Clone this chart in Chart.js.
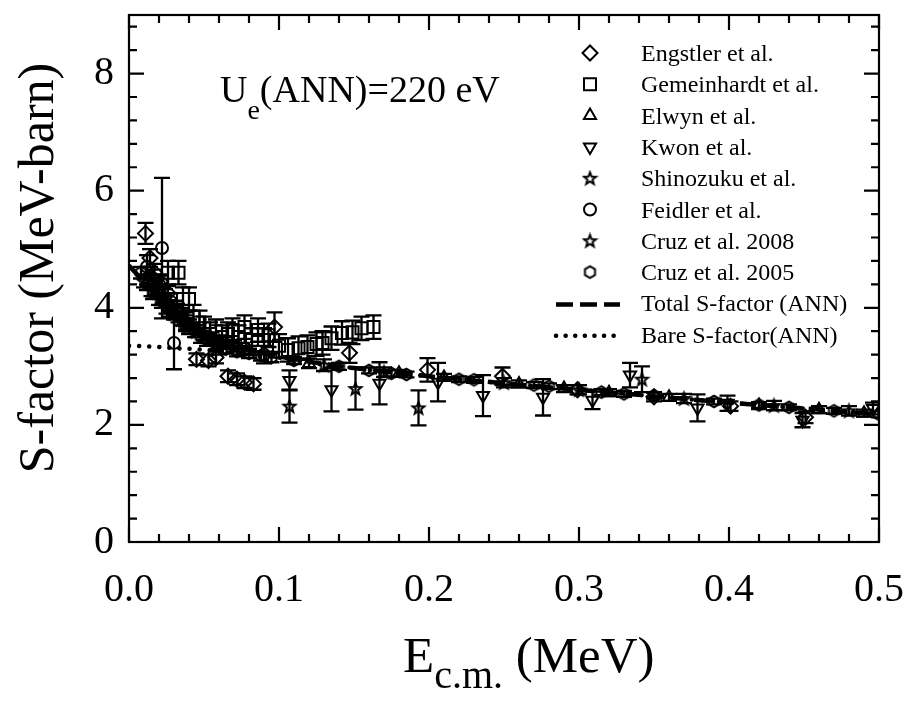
<!DOCTYPE html>
<html>
<head>
<meta charset="utf-8">
<script src="https://cdn.jsdelivr.net/npm/chart.js@4/dist/chart.umd.min.js"></script>
<style>
  html, body { margin: 0; padding: 0; background: #fff; }
  #wrap { width: 922px; height: 703px; position: relative; }
</style>
</head>
<body>
<div id="wrap"><canvas id="sfactor"></canvas></div>
<script>
"use strict";

/*---------------------------------------------------
---------------------------------------------------*/
var engstler = [
  [0.011, 5.27, 0.18], [0.014, 4.85, 0.15], [0.017, 4.6, 0.15], [0.021, 4.45, 0.12],
  [0.026, 4.25, 0.12], [0.032, 3.95, 0.12], [0.038, 3.75, 0.12], [0.045, 3.12, 0.1],
  [0.053, 3.1, 0.1], [0.058, 3.15, 0.1], [0.066, 2.83, 0.1], [0.072, 2.78, 0.1],
  [0.077, 2.73, 0.1], [0.083, 2.7, 0.1], [0.097, 3.67, 0.25], [0.147, 3.23, 0.17],
  [0.199, 2.94, 0.2], [0.249, 2.83, 0.15], [0.299, 2.6, 0.08], [0.35, 2.48, 0.08],
  [0.401, 2.32, 0.08], [0.451, 2.13, 0.1]
];
var gemeinhardt = [
  [0.026, 4.6, 0.2], [0.033, 4.6, 0.2], [0.036, 4.15, 0.2], [0.04, 4.15, 0.2],
  [0.043, 3.85, 0.2], [0.047, 3.75, 0.2], [0.05, 3.65, 0.2], [0.054, 3.55, 0.2],
  [0.058, 3.6, 0.2], [0.062, 3.5, 0.2], [0.066, 3.55, 0.2], [0.069, 3.62, 0.2],
  [0.073, 3.5, 0.2], [0.077, 3.67, 0.2], [0.082, 3.45, 0.2], [0.086, 3.62, 0.2],
  [0.09, 3.45, 0.2], [0.093, 3.53, 0.2], [0.1, 3.35, 0.2], [0.106, 3.28, 0.2],
  [0.113, 3.31, 0.2], [0.119, 3.33, 0.2], [0.125, 3.38, 0.2], [0.129, 3.4, 0.2],
  [0.135, 3.48, 0.2], [0.142, 3.57, 0.2], [0.149, 3.58, 0.2], [0.155, 3.65, 0.2],
  [0.163, 3.67, 0.2]
];
var elwyn = [
  [0.02, 4.3, 0.1], [0.03, 3.95, 0.1], [0.04, 3.65, 0.1], [0.06, 3.4, 0.1],
  [0.08, 3.27, 0.08], [0.12, 3.05, 0.08], [0.18, 2.88, 0.06], [0.21, 2.81, 0.06],
  [0.26, 2.7, 0.06], [0.29, 2.62, 0.06], [0.32, 2.55, 0.06], [0.36, 2.47, 0.06],
  [0.42, 2.33, 0.06], [0.46, 2.26, 0.06], [0.49, 2.2, 0.06]
];
var kwon = [
  [0.107, 2.76, 0.17], [0.135, 2.6, 0.37], [0.167, 2.71, 0.36], [0.206, 2.73, 0.33],
  [0.236, 2.5, 0.35], [0.276, 2.47, 0.31], [0.309, 2.42, 0.15], [0.334, 2.85, 0.21],
  [0.379, 2.29, 0.23], [0.399, 2.37, 0.13], [0.449, 2.08, 0.12], [0.496, 2.28, 0.1]
];
var shinozuku = [
  [0.012, 4.55, 0.15], [0.018, 4.35, 0.15], [0.024, 4.2, 0.12], [0.03, 4.0, 0.12],
  [0.038, 3.8, 0.12], [0.107, 2.32, 0.28], [0.13, 3.02, 0.1], [0.151, 2.62, 0.36],
  [0.17, 2.9, 0.08], [0.193, 2.29, 0.3], [0.25, 2.72, 0.08], [0.3, 2.6, 0.08],
  [0.342, 2.78, 0.22], [0.37, 2.45, 0.08], [0.43, 2.33, 0.08], [0.48, 2.24, 0.08]
];
var feidler = [
  [0.012, 4.7, 0.2], [0.016, 4.5, 0.15], [0.02, 4.4, 0.15], [0.022, 5.02, 1.2],
  [0.028, 4.1, 0.15], [0.03, 3.4, 0.45], [0.035, 3.85, 0.15], [0.06, 3.35, 0.15],
  [0.09, 3.2, 0.15]
];
var cruz2008 = [
  [0.01, 4.45, 0.1], [0.015, 4.3, 0.1], [0.02, 4.15, 0.1], [0.025, 4.0, 0.1],
  [0.03, 3.9, 0.1], [0.035, 3.8, 0.1], [0.04, 3.7, 0.1], [0.045, 3.6, 0.1],
  [0.05, 3.55, 0.1], [0.055, 3.48, 0.1], [0.06, 3.43, 0.1], [0.065, 3.4, 0.1],
  [0.07, 3.35, 0.1], [0.075, 3.3, 0.1]
];
var cruz2005 = [
  [0.008, 4.6, 0.1], [0.012, 4.4, 0.1], [0.016, 4.25, 0.1], [0.022, 4.1, 0.1],
  [0.028, 3.95, 0.1], [0.033, 3.85, 0.1], [0.038, 3.7, 0.1], [0.044, 3.6, 0.1],
  [0.048, 3.5, 0.1], [0.052, 3.45, 0.1], [0.058, 3.38, 0.1], [0.065, 3.3, 0.08],
  [0.072, 3.25, 0.08], [0.08, 3.22, 0.08], [0.088, 3.18, 0.08], [0.095, 3.15, 0.08],
  [0.11, 3.1, 0.06], [0.14, 3.0, 0.06], [0.16, 2.93, 0.05], [0.175, 2.88, 0.05],
  [0.185, 2.86, 0.05], [0.22, 2.78, 0.05], [0.23, 2.77, 0.05], [0.27, 2.68, 0.05],
  [0.28, 2.66, 0.05], [0.315, 2.56, 0.05], [0.33, 2.53, 0.05], [0.35, 2.5, 0.05],
  [0.39, 2.4, 0.05], [0.42, 2.34, 0.05], [0.44, 2.3, 0.05], [0.47, 2.24, 0.05],
  [0.5, 2.18, 0.05]
];

// ANN curves
var curveE = [0, 0.005, 0.01, 0.015, 0.02, 0.025, 0.03, 0.04, 0.05, 0.06, 0.07, 0.08,
              0.1, 0.12, 0.15, 0.2, 0.25, 0.3, 0.35, 0.4, 0.45, 0.5];
var totalS = [4.72, 4.58, 4.44, 4.3, 4.16, 4.03, 3.91, 3.71, 3.55, 3.44, 3.35, 3.28,
              3.17, 3.08, 2.97, 2.83, 2.71, 2.6, 2.49, 2.38, 2.28, 2.18];
var bareS  = [3.35, 3.35, 3.34, 3.34, 3.33, 3.32, 3.31, 3.3, 3.28, 3.26, 3.23, 3.21,
              3.15, 3.07, 2.97, 2.83, 2.71, 2.6, 2.49, 2.38, 2.28, 2.18];

var seriesNames = ["Engstler et al.", "Gemeinhardt et al.", "Elwyn et al.", "Kwon et al.",
                   "Shinozuku et al.", "Feidler et al.", "Cruz et al. 2008", "Cruz et al. 2005",
                   "Total S-factor (ANN)", "Bare S-factor(ANN)"];
var xTicks = [0, 0.1, 0.2, 0.3, 0.4, 0.5];
var yTicks = [0, 2, 4, 6, 8];

/*---------------------------------------------------
  Symbols
---------------------------------------------------*/
var SERIF = '"Liberation Serif", "Times New Roman", serif';

function symbolCanvas(draw) {
    var c = document.createElement('canvas');
    c.width = 17; c.height = 17;
    var g = c.getContext('2d');
    g.strokeStyle = '#000';
    g.lineWidth = 2;
    g.beginPath();
    draw(g);
    g.closePath();
    g.stroke();
    return c;
}
var starImg = symbolCanvas(function (g) {
    for (var i = 0; i < 10; i++) {
        var r = i % 2 ? 2.7 : 6.4, a = -Math.PI / 2 + i * Math.PI / 5;
        g.lineTo(8.5 + r * Math.cos(a), 9 + r * Math.sin(a));
    }
});
var hexImg = symbolCanvas(function (g) {
    for (var i = 0; i < 6; i++) {
        var a = -Math.PI / 2 + i * Math.PI / 3;
        g.lineTo(8.5 + 5.8 * Math.cos(a), 8.5 + 5.8 * Math.sin(a));
    }
});

var symbolSets = [
    { src: engstler, style: 'rectRot', r: 7.5 },
    { src: gemeinhardt, style: 'rect', r: 8.5 },
    { src: elwyn, style: 'triangle', r: 7 },
    { src: kwon, style: 'triangle', r: 7, rot: 180 },
    { src: shinozuku, style: starImg, r: 6 },
    { src: feidler, style: 'circle', r: 6 },
    { src: cruz2008, style: starImg, r: 6 },
    { src: cruz2005, style: hexImg, r: 6 }
];

function pts(s) { return s.map(function (p) { return { x: p[0], y: p[1] }; }); }
function errs(s) { return s.map(function (p) { return p[2]; }); }
function curve(ys) { return curveE.map(function (x, i) { return { x: x, y: ys[i] }; }); }

var datasets = [
    {
        label: seriesNames[8], type: 'line', data: curve(totalS),
        borderColor: '#000', borderWidth: 4.5, borderDash: [16, 7],
        pointRadius: 0, cubicInterpolationMode: 'monotone', fill: false
    },
    {
        label: seriesNames[9], type: 'line', data: curve(bareS),
        borderColor: '#000', borderWidth: 4.5, borderDash: [0.1, 10], borderCapStyle: 'round',
        pointRadius: 0, cubicInterpolationMode: 'monotone', fill: false
    }
];
symbolSets.forEach(function (s, i) {
    datasets.push({
        label: seriesNames[i], data: pts(s.src), errors: errs(s.src),
        showLine: false, pointStyle: s.style, pointRadius: s.r, pointRotation: s.rot || 0,
        pointBorderColor: '#000', pointBackgroundColor: 'rgba(0,0,0,0)', pointBorderWidth: 2
    });
});

/*---------------------------------------------------
  Error bars
---------------------------------------------------*/
var errorBars = {
    id: 'errorBars',
    beforeDatasetsDraw: function (chart) {
        var ctx = chart.ctx, xs = chart.scales.x, ys = chart.scales.y, a = chart.chartArea;
        ctx.save();
        ctx.beginPath();
        ctx.rect(a.left, a.top, a.right - a.left, a.bottom - a.top);
        ctx.clip();
        ctx.strokeStyle = '#000';
        ctx.lineWidth = 2.3;
        chart.data.datasets.forEach(function (ds) {
            if (!ds.errors) return;
            ds.data.forEach(function (p, i) {
                var px = xs.getPixelForValue(p.x),
                    top = ys.getPixelForValue(p.y + ds.errors[i]),
                    bot = ys.getPixelForValue(p.y - ds.errors[i]);
                ctx.beginPath();
                ctx.moveTo(px, top); ctx.lineTo(px, bot);
                ctx.moveTo(px - 8, top); ctx.lineTo(px + 8, top);
                ctx.moveTo(px - 8, bot); ctx.lineTo(px + 8, bot);
                ctx.stroke();
            });
        });
        ctx.restore();
    }
};

/*---------------------------------------------------
  Frame, inward ticks, legend, titles
---------------------------------------------------*/
var decorations = {
    id: 'decorations',
    afterDraw: function (chart) {
        var ctx = chart.ctx, xs = chart.scales.x, ys = chart.scales.y, a = chart.chartArea;
        var v, p, i, len;
        ctx.save();
        ctx.strokeStyle = '#000';
        ctx.fillStyle = '#000';
        ctx.lineWidth = 2.2;
        ctx.strokeRect(a.left, a.top, a.right - a.left, a.bottom - a.top);

        ctx.beginPath();
        for (i = 0; i <= 25; i++) {
            v = i * 0.02;
            p = xs.getPixelForValue(v);
            len = i % 5 === 0 ? 15 : 8;
            ctx.moveTo(p, a.bottom); ctx.lineTo(p, a.bottom - len);
            ctx.moveTo(p, a.top); ctx.lineTo(p, a.top + len);
        }
        for (i = 0; i <= 22; i++) {
            v = i * 0.4;
            p = ys.getPixelForValue(v);
            len = i % 5 === 0 ? 15 : 8;
            ctx.moveTo(a.left, p); ctx.lineTo(a.left + len, p);
            ctx.moveTo(a.right, p); ctx.lineTo(a.right - len, p);
        }
        ctx.stroke();

        // legend
        var helpers = Chart.helpers;
        ctx.font = '24px ' + SERIF;
        ctx.textAlign = 'left';
        ctx.textBaseline = 'alphabetic';
        for (i = 0; i < seriesNames.length; i++) {
            var base = 61 + i * 31.3, mid = base - 8;
            if (i < symbolSets.length) {
                var s = symbolSets[i];
                ctx.save();
                ctx.fillStyle = '#fff';
                ctx.lineWidth = 2;
                helpers.drawPoint(ctx, { pointStyle: s.style, radius: s.r, rotation: s.rot || 0, borderWidth: 2 }, 590, mid);
                ctx.restore();
            } else {
                ctx.save();
                ctx.lineWidth = 4.5;
                if (i === 8) { ctx.setLineDash([17, 7]); ctx.lineCap = 'butt'; }
                else { ctx.setLineDash([0.1, 9.5]); ctx.lineCap = 'round'; }
                ctx.beginPath();
                ctx.moveTo(556, mid + 1); ctx.lineTo(620, mid + 1);
                ctx.stroke();
                ctx.restore();
            }
            ctx.fillText(seriesNames[i], 641, base);
        }

        // U_e annotation
        ctx.font = '38px ' + SERIF;
        ctx.fillText('U', 220, 102);
        var w = ctx.measureText('U').width;
        ctx.font = '28px ' + SERIF;
        ctx.fillText('e', 220 + w, 119);
        var w2 = ctx.measureText('e').width;
        ctx.font = '38px ' + SERIF;
        ctx.fillText('(ANN)=220 eV', 220 + w + w2, 102);

        // x title
        ctx.font = '51px ' + SERIF;
        ctx.fillText('E', 403, 672);
        w = ctx.measureText('E').width;
        ctx.font = '40px ' + SERIF;
        ctx.fillText('c.m.', 403 + w, 688);
        w2 = ctx.measureText('c.m.').width;
        ctx.font = '51px ' + SERIF;
        ctx.fillText(' (MeV)', 403 + w + w2, 672);

        // y title
        ctx.translate(40, 268);
        ctx.rotate(-Math.PI / 2);
        ctx.textAlign = 'center';
        ctx.textBaseline = 'middle';
        ctx.font = '50px ' + SERIF;
        ctx.fillText('S-factor (MeV-barn)', 0, 0);
        ctx.restore();
    }
};

/*---------------------------------------------------
  Chart
---------------------------------------------------*/
var ctx = document.getElementById('sfactor');
var sChart = new Chart(ctx, {
    type: 'scatter',
    data: { datasets: datasets },
    plugins: [errorBars, decorations],
    options: {
        responsive: true,
        maintainAspectRatio: false,
        animation: false,
        layout: { padding: { top: 15, right: 43, left: 0, bottom: 0 } },
        plugins: {
            legend: { display: false },
            tooltip: { enabled: false }
        },
        scales: {
            x: {
                type: 'linear', min: 0, max: 0.5,
                afterFit: function (s) { s.height = 161; s.paddingLeft = 0; s.paddingRight = 0; },
                afterBuildTicks: function (s) { s.ticks = xTicks.map(function (v) { return { value: v }; }); },
                grid: { display: false, drawTicks: false },
                border: { display: false },
                ticks: {
                    padding: 24, color: '#000', maxRotation: 0, autoSkip: false,
                    font: { family: SERIF, size: 40 },
                    callback: function (v) { return v.toFixed(1); }
                }
            },
            y: {
                type: 'linear', min: 0, max: 9,
                afterFit: function (s) { s.width = 129; s.paddingTop = 0; s.paddingBottom = 0; },
                afterBuildTicks: function (s) { s.ticks = yTicks.map(function (v) { return { value: v }; }); },
                grid: { display: false, drawTicks: false },
                border: { display: false },
                ticks: {
                    padding: 15, color: '#000',
                    font: { family: SERIF, size: 40 },
                    callback: function (v) { return String(v); }
                }
            }
        }
    }
});
</script>
</body>
</html>
